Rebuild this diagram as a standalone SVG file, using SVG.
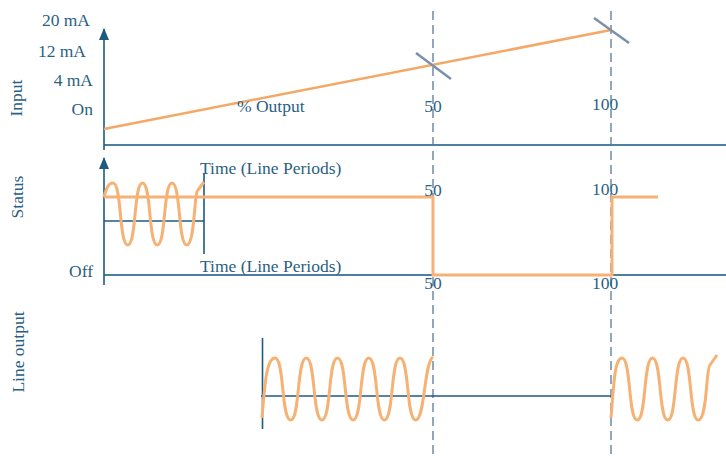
<svg xmlns="http://www.w3.org/2000/svg" width="726" height="456" viewBox="0 0 726 456">
<style>
text{font-family:"Liberation Serif","DejaVu Serif",serif;font-size:17.5px;fill:#2b5f82}
.ax{stroke:#1d5a80;stroke-width:1.6;fill:none}
.base{stroke:#4d7f9f;stroke-width:2;fill:none}
.dash{stroke:#93a6c0;stroke-width:2;stroke-dasharray:9,5;fill:none}
.tick{stroke:#7d90ab;stroke-width:2.5;fill:none}
.sig{stroke:#f6b274;stroke-width:3;fill:none;stroke-linejoin:round}
.ramp{stroke:#f5a866;stroke-width:2.5;fill:none}
</style>
<defs>
<marker id="arr" viewBox="0 0 12 10" refX="11" refY="5" markerWidth="12" markerHeight="10" markerUnits="userSpaceOnUse" orient="auto">
<path d="M0,0 L12,5 L0,10 Z" fill="#1d5a80"/>
</marker>
</defs>
<g id="connectors">
<line class="dash" x1="433" y1="11" x2="433" y2="456"/>
<line class="dash" x1="611" y1="11" x2="611" y2="456"/>
</g>
<g id="input-panel">
<line class="base" x1="104" y1="145" x2="726" y2="145"/>
<line class="ax" x1="104" y1="150" x2="104" y2="29" marker-end="url(#arr)"/>
<line class="ramp" x1="104" y1="129" x2="611" y2="30"/>
<line class="tick" x1="416" y1="53" x2="451" y2="79"/>
<line class="tick" x1="594" y1="18" x2="629" y2="43"/>
<text x="90" y="26" text-anchor="end">20 mA</text>
<text x="86" y="57" text-anchor="end">12 mA</text>
<text x="93" y="86" text-anchor="end">4 mA</text>
<text x="93" y="115" text-anchor="end">On</text>
<text x="237" y="112">% Output</text>
<text x="433" y="112" text-anchor="middle">50</text>
<text x="605" y="110" text-anchor="middle">100</text>
<text transform="translate(22,98) rotate(-90)" text-anchor="middle">Input</text>
</g>
<g id="status-panel">
<line class="base" x1="104" y1="275" x2="726" y2="275"/>
<line class="ax" x1="104" y1="285" x2="104" y2="158" marker-end="url(#arr)"/>
<line class="ax" x1="104" y1="221" x2="204" y2="221"/>
<line class="ax" x1="204" y1="173" x2="204" y2="254"/>
<path class="sig" d="M104,197 L433,197 L433,275 L612,275 L612,197 L658,197"/>
<path class="sig" d="M104,197 C107,186 109,183 113,183 C121.9,183 118.9,245 127.75,245 C136.6,245 133.6,183 142.5,183 C151.4,183 148.4,245 157.25,245 C166.1,245 163.1,183 172,183 C180.9,183 177.9,245 186.75,245 C195,245 194,192 198,190 L204,182"/>
<text x="200" y="174">Time (Line Periods)</text>
<text x="200" y="272">Time (Line Periods)</text>
<text x="93" y="277" text-anchor="end">Off</text>
<text x="433" y="196" text-anchor="middle">50</text>
<text x="605" y="195" text-anchor="middle">100</text>
<text x="433" y="289" text-anchor="middle">50</text>
<text x="605" y="289" text-anchor="middle">100</text>
<text transform="translate(23,197) rotate(-90)" text-anchor="middle">Status</text>
</g>
<g id="line-output-panel">
<line class="ax" x1="262.5" y1="338" x2="262.5" y2="429"/>
<line class="ax" x1="261" y1="396" x2="611" y2="396"/>
<path class="sig" d="M262,418 C265,380 267,358 275,358 C284.4,358 281.2,420 290.6,420 C300,420 296.8,358 306.25,358 C315.6,358 312.5,420 321.9,420 C331.3,420 328.1,358 337.5,358 C346.9,358 343.7,420 353.1,420 C362.5,420 359.4,358 368.75,358 C378.1,358 375,420 384.4,420 C393.8,420 390.6,358 400,358 C409.4,358 406.2,420 415.6,420 C425,420 424,362 433,357"/>
<path class="sig" d="M611,418 C614,380 615,358 622,358 C631.2,358 628.1,420 637.25,420 C646.4,420 643.3,358 652.5,358 C661.7,358 658.6,420 667.75,420 C676.9,420 673.8,358 683,358 C692.2,358 689.1,420 698.25,420 C707.4,420 705.9,368 710,365 L717,355"/>
<text transform="translate(24,352) rotate(-90)" text-anchor="middle">Line output</text>
</g>
</svg>
